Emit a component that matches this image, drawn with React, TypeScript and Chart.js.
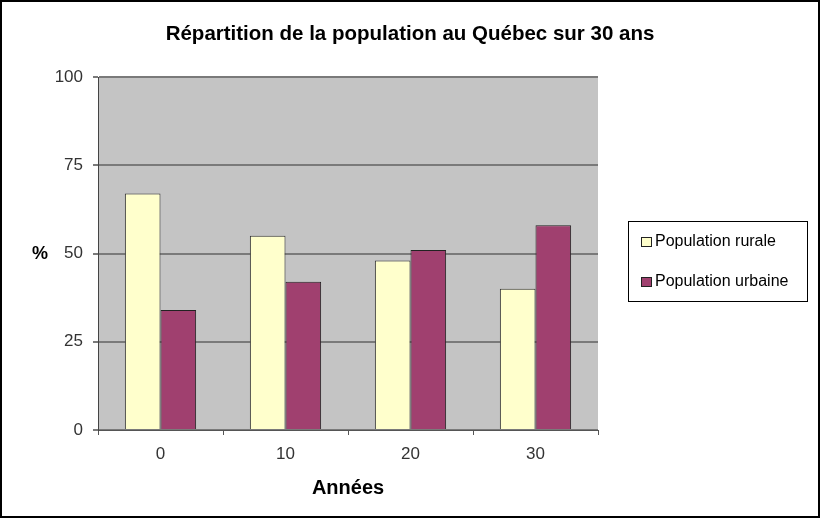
import React, { useEffect, useRef } from "react";
import { Chart, registerables } from "chart.js";

Chart.register(...registerables);

const categories = ["0", "10", "20", "30"];
const rurale = [67, 55, 48, 40];
const urbaine = [34, 42, 51, 58];
const yTicks = [0, 25, 50, 75, 100];
const seriesNames = ["Population rurale", "Population urbaine"];
const titleText = "Répartition de la population au Québec sur 30 ans";
const xTitle = "Années";
const yTitle = "%";

const FONT = "'Liberation Sans', Arial, sans-serif";
const RURAL = "#ffffcc";
const URBAN = "#a0406f";

export default function App() {
  const ref = useRef<HTMLCanvasElement | null>(null);
  useEffect(() => {
    document.body.style.margin = "0";
    const canvas = ref.current!;
    const decor = {
      id: "decor",
      beforeDraw(chart: any) {
        const { ctx, chartArea } = chart;
        ctx.save();
        ctx.fillStyle = "#ffffff";
        ctx.fillRect(0, 0, chart.width, chart.height);
        ctx.fillStyle = "#c4c4c4";
        ctx.fillRect(chartArea.left, chartArea.top, chartArea.right - chartArea.left, chartArea.bottom - chartArea.top);
        ctx.restore();
      },
      afterDraw(chart: any) {
        const { ctx, chartArea } = chart;
        ctx.save();
        // outer border
        ctx.strokeStyle = "#000";
        ctx.lineWidth = 2;
        ctx.strokeRect(1, 1, chart.width - 2, chart.height - 2);
        // title
        ctx.fillStyle = "#000";
        ctx.textAlign = "center";
        ctx.textBaseline = "middle";
        ctx.font = `bold 20.5px ${FONT}`;
        ctx.fillText(titleText, 410, 34);
        // axis titles
        ctx.font = `bold 20px ${FONT}`;
        ctx.fillText(xTitle, (chartArea.left + chartArea.right) / 2, 488);
        ctx.font = `bold 18px ${FONT}`;
        ctx.fillText(yTitle, 40, 254);
        // legend
        ctx.strokeStyle = "#000";
        ctx.lineWidth = 1;
        ctx.fillStyle = "#fff";
        ctx.fillRect(628.5, 221.5, 179, 80);
        ctx.strokeRect(628.5, 221.5, 179, 80);
        const colors = [RURAL, URBAN];
        const ys = [242, 282];
        ctx.font = `16px ${FONT}`;
        ctx.textAlign = "left";
        seriesNames.forEach((name, i) => {
          ctx.fillStyle = colors[i];
          ctx.fillRect(641.5, ys[i] - 4.5, 10, 9);
          ctx.strokeStyle = "#222";
          ctx.strokeRect(641.5, ys[i] - 4.5, 10, 9);
          ctx.fillStyle = "#000";
          ctx.fillText(name, 655, ys[i]);
        });
        ctx.restore();
      },
    };
    const chart = new Chart(canvas, {
      type: "bar",
      data: {
        labels: categories,
        datasets: [
          {
            label: seriesNames[0],
            data: rurale,
            backgroundColor: RURAL,
            borderColor: "#333",
            borderWidth: 1,
            categoryPercentage: 0.57,
            barPercentage: 1.0,
          },
          {
            label: seriesNames[1],
            data: urbaine,
            backgroundColor: URBAN,
            borderColor: "#222",
            borderWidth: 1,
            categoryPercentage: 0.57,
            barPercentage: 1.0,
          },
        ],
      },
      options: {
        responsive: false,
        animation: false,
        layout: { padding: { left: 0, top: 77, right: 222, bottom: 0 } },
        plugins: { legend: { display: false }, title: { display: false }, tooltip: { enabled: false } },
        scales: {
          x: {
            offset: true,
            grid: { offset: true, drawOnChartArea: false, drawTicks: true, tickLength: 5, color: "#555", lineWidth: 1 },
            border: { display: true, color: "#555", width: 1 },
            ticks: { color: "#333", font: { family: FONT, size: 17 }, padding: 9 },
            afterFit(scale: any) {
              scale.height = 88;
            },
          },
          y: {
            min: 0,
            max: 100,
            afterBuildTicks(scale: any) {
              scale.ticks = yTicks.map((v) => ({ value: v }));
            },
            grid: { color: "#7a7a7a", lineWidth: 2, drawTicks: true, tickLength: 5 },
            border: { display: true, color: "#444", width: 1 },
            ticks: { color: "#333", font: { family: FONT, size: 17 }, padding: 10 },
            afterFit(scale: any) {
              scale.width = 98;
            },
          },
        },
      },
      plugins: [decor],
    });
    return () => chart.destroy();
  }, []);
  return <canvas ref={ref} width={820} height={518} style={{ display: "block", width: 820, height: 518 }} />;
}
